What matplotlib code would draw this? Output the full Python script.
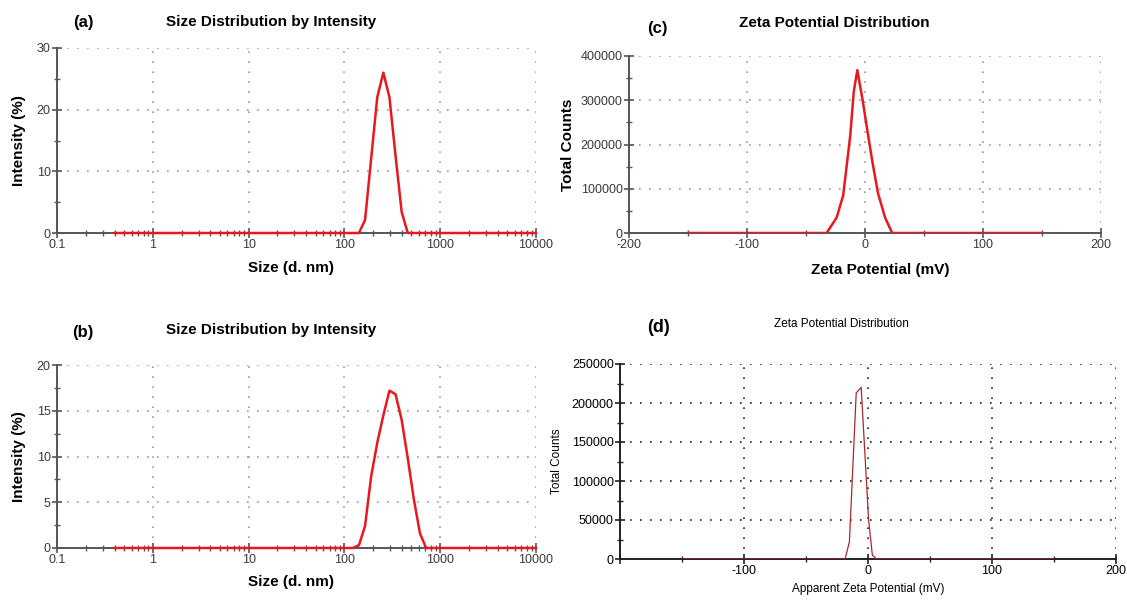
import matplotlib
matplotlib.use('Agg')
import matplotlib.pyplot as plt
from matplotlib.ticker import FixedLocator, NullFormatter

plt.rcParams['font.family'] = ['Liberation Sans', 'DejaVu Sans']
plt.rcParams['axes.unicode_minus'] = False

# (a) サイズ分布 --- 試料1
size_a = [0.4, 141.8, 164.2, 190.1, 220.2, 255.0, 295.3, 342.0, 396.1, 458.7, 10000]
int_a = [0, 0, 2.1, 12.0, 22.0, 26.0, 22.0, 12.5, 3.4, 0, 0]

# (b) サイズ分布 --- 試料2
size_b = [0.4, 122.4, 141.8, 164.2, 190.1, 220.2, 255.0, 295.3, 342.0, 396.1,
          458.7, 531.2, 615.1, 712.4, 10000]
int_b = [0, 0, 0.3, 2.4, 7.8, 11.5, 14.5, 17.2, 16.8, 14.0, 9.8, 5.3, 1.6, 0, 0]

# (c) ゼータ電位分布 --- 試料1
zeta_c = [-150, -32.5, -24, -18.5, -12.5, -9.5, -6.5, -2, 1.5, 6, 11, 17, 23, 150]
cnt_c = [0, 0, 35000, 85000, 220000, 320000, 368000, 300000, 240000, 165000,
         90000, 35000, 0, 0]

# (d) ゼータ電位分布 --- 試料2
zeta_d = [-150, -18.5, -15, -9.5, -5.5, 0.5, 3.5, 7, 150]
cnt_d = [0, 0, 22000, 213000, 220000, 50000, 5000, 0, 0]

size_ticks = [0.1, 1, 10, 100, 1000, 10000]
size_labels = ['0.1', '1', '10', '100', '1000', '10000']

W, H = 1127, 601
fig = plt.figure(figsize=(W / 100, H / 100), dpi=100)


def box(l, r, t, b):
    return [l / W, 1 - b / H, (r - l) / W, (b - t) / H]


def txt(x, y, s, **kw):
    fig.text(x / W, 1 - y / H, s, ha='center', va='center', **kw)


def style(ax, gray=True):
    c = '#555555' if gray else '#222222'
    for s in ['top', 'right']:
        ax.spines[s].set_visible(False)
    for s in ['left', 'bottom']:
        ax.spines[s].set_color(c)
        ax.spines[s].set_linewidth(1.4)
        ax.spines[s].set_zorder(1)
    ax.tick_params(which='major', direction='inout', length=7, width=1.2,
                   color=c, labelsize=9, labelcolor='#3a3a3a' if gray else 'black', pad=1)
    ax.tick_params(which='minor', direction='inout', length=5, width=1.0, color=c)
    ax.grid(True, which='major', linestyle=(0, (1, 5)), linewidth=1.2,
            color='#999999' if gray else '#222222')
    ax.set_axisbelow(True)


# サイズ分布のグラフ --- (a)(b)
for (ax_box, xs, ys, ymax, ystep, tpos, lab) in [
        (box(57, 536, 48, 233), size_a, int_a, 30, 10, (22, 22), '(a)'),
        (box(57, 536, 365, 548), size_b, int_b, 20, 5, (330, 333), '(b)')]:
    ax = fig.add_axes(ax_box)
    ax.plot(xs, ys, color='#e8181c', linewidth=1.8, zorder=3, clip_on=False)
    ax.set_xscale('log')
    ax.set_xlim(0.1, 10000)
    ax.set_ylim(0, ymax)
    ax.xaxis.set_major_locator(FixedLocator(size_ticks))
    ax.set_xticklabels(size_labels)
    ax.xaxis.set_minor_formatter(NullFormatter())
    ax.set_yticks(range(0, ymax + 1, ystep))
    ax.set_yticks([v + ystep / 2 for v in range(0, ymax, ystep)], minor=True)
    style(ax)
    ax.set_ylabel('Intensity (%)', fontsize=11, fontweight='bold', labelpad=8)
    ax.set_xlabel('Size (d. nm)', fontsize=11, fontweight='bold')
    ax.xaxis.set_label_coords(0.489, -0.15)
    txt(271, tpos[0], 'Size Distribution by Intensity', fontsize=11, fontweight='bold')
    txt(83, tpos[1], lab, fontsize=12, fontweight='bold')

# ゼータ電位のグラフ --- (c)
ax = fig.add_axes(box(629, 1101, 56, 233))
ax.plot(zeta_c, cnt_c, color='#e8181c', linewidth=1.8, zorder=3)
ax.set_xlim(-200, 200)
ax.set_ylim(0, 400000)
ax.set_xticks([-200, -100, 0, 100, 200])
ax.set_xticks([-150, -50, 50, 150], minor=True)
ax.set_yticks(range(0, 400001, 100000))
ax.set_yticks(range(50000, 400000, 100000), minor=True)
style(ax)
ax.set_ylabel('Total Counts', fontsize=11, fontweight='bold', labelpad=4)
ax.set_xlabel('Zeta Potential (mV)', fontsize=11, fontweight='bold')
ax.xaxis.set_label_coords(0.532, -0.17)
txt(834, 23, 'Zeta Potential Distribution', fontsize=11, fontweight='bold')
txt(657, 29, '(c)', fontsize=12, fontweight='bold')

# ゼータ電位のグラフ --- (d)
ax = fig.add_axes(box(620, 1116, 364, 559))
ax.plot(zeta_d, cnt_d, color='#a52a2a', linewidth=0.9, zorder=3)
ax.set_xlim(-200, 200)
ax.set_ylim(0, 250000)
ax.set_xticks([-200, -100, 0, 100, 200])
ax.set_xticklabels(['', '-100', '0', '100', '200'])
ax.set_xticks([-150, -50, 50, 150], minor=True)
ax.set_yticks(range(0, 250001, 50000))
ax.set_yticks(range(25000, 250000, 50000), minor=True)
style(ax, gray=False)
ax.set_ylabel('Total Counts', fontsize=8.5, labelpad=6)
ax.set_xlabel('Apparent Zeta Potential (mV)', fontsize=8.5, labelpad=4)
txt(841, 324, 'Zeta Potential Distribution', fontsize=8.5)
txt(659, 327, '(d)', fontsize=13, fontweight='bold')

plt.savefig('out.png', dpi=100)
